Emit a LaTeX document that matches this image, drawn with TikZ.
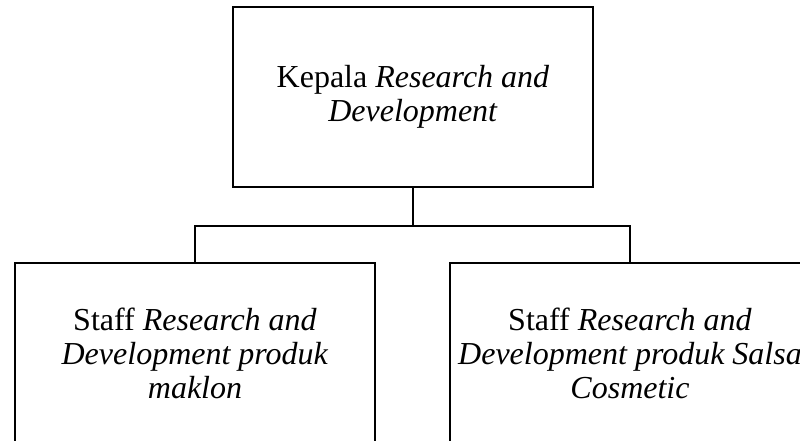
\documentclass[tikz,border=0pt]{standalone}
\usepackage{fontspec}
\setmainfont{Liberation Serif}

\tikzset{
	unit/.style={draw, line width=2.6pt, minimum width=360pt, minimum height=180pt, align=center, font=\fontsize{32}{34}\selectfont},
	link/.style={line width=2.2pt}
}

\begin{document}
\begin{tikzpicture}[x=1pt, y=1pt]
			\useasboundingbox (0,0) rectangle (800,-441);

			\draw node[unit] (kepala) at (413,-97) {Kepala \textit{Research and}\\\textit{Development}};
			\draw node[unit] (maklon) at (195,-353) {Staff \textit{Research and}\\\textit{Development produk}\\\textit{maklon}};
			\draw node[unit] (salsa) at (630,-353) {Staff \textit{Research and}\\\textit{Development produk Salsa}\\\textit{Cosmetic}};
			\coordinate (split) at (413,-226);

			\draw[link] (kepala.south) -- (split);
			\draw[link] (maklon.north) |- (split) -| (salsa.north);
		\end{tikzpicture}
\end{document}
